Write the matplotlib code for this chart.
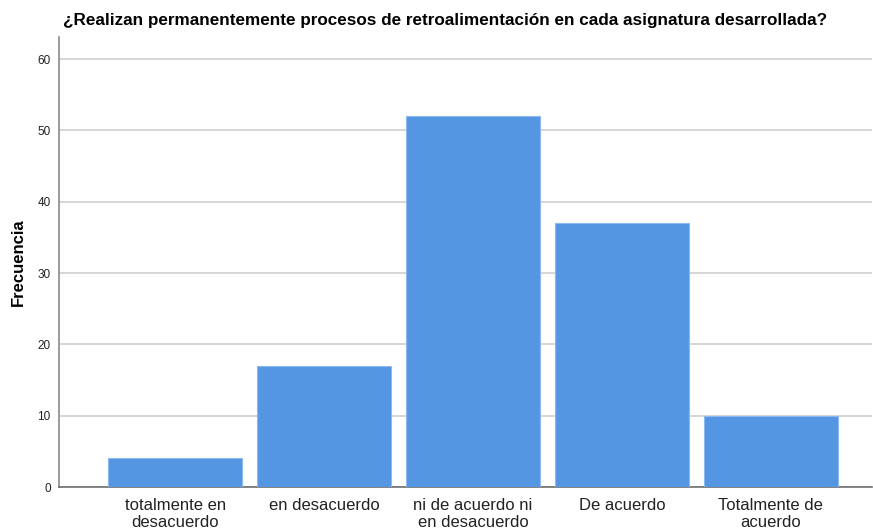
import matplotlib
matplotlib.use("Agg")
import matplotlib.pyplot as plt

categories = ["totalmente en\ndesacuerdo", "en desacuerdo", "ni de acuerdo ni\nen desacuerdo",
              "De acuerdo", "Totalmente de\nacuerdo"]
values = [4, 17, 52, 37, 10]
yticks = [0, 10, 20, 30, 40, 50, 60]

plt.rcParams['font.family'] = ['Liberation Sans', 'DejaVu Sans']

fig = plt.figure(figsize=(8.73, 5.31), dpi=100)
ax = fig.add_axes([59/873, 44/531, (872-59)/873, (487-37)/531])

x = list(range(len(categories)))
ax.bar(x, values, width=0.9, color='#5596e3', edgecolor='#8bb8ee', linewidth=0.8, zorder=3)

ax.set_xlim(-0.78, 4.68)
ax.set_ylim(0, 63.1)
ax.set_yticks(yticks)
ax.yaxis.grid(True, color='#cfcfcf', linewidth=1.2, zorder=0)
ax.set_axisbelow(True)
ax.set_xticks(x)
ax.set_xticklabels(categories, fontsize=12, color='#222222', linespacing=1.12)
ax.tick_params(axis='x', length=0, pad=8)
ax.tick_params(axis='y', length=0, labelsize=8.5, pad=6, labelcolor='#222222')

for s in ['top', 'right']:
    ax.spines[s].set_visible(False)
ax.spines['left'].set_color('#8a8a8a')
ax.spines['bottom'].set_color('#6e6e6e')
ax.spines['left'].set_linewidth(1.2)
ax.spines['bottom'].set_linewidth(1.2)

ax.set_ylabel('Frecuencia', fontsize=12, fontweight='bold')
ax.yaxis.set_label_coords((26 - 59) / (872 - 59), 0.5)
fig.text(63/873, 1 - 21/531, '¿Realizan permanentemente procesos de retroalimentación en cada asignatura desarrollada?',
         fontsize=12.3, fontweight='bold', ha='left', va='center')

fig.savefig('out.png', dpi=100)
